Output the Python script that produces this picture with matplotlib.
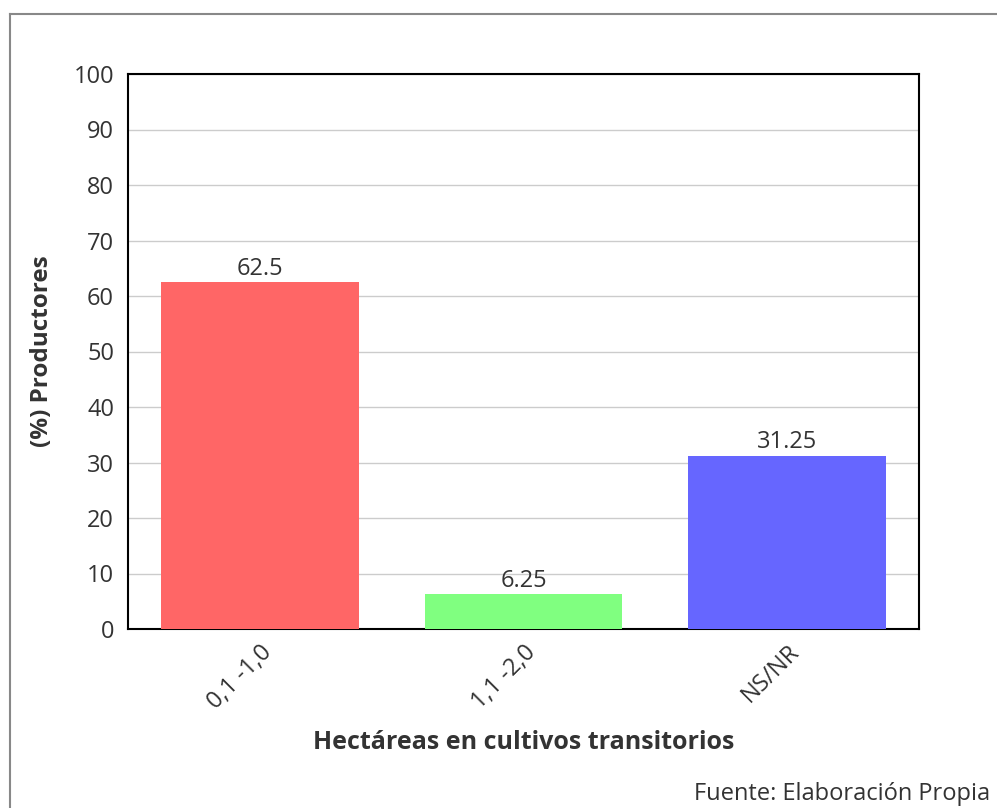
import matplotlib.pyplot as plt
from matplotlib.lines import Line2D

categories = ['0,1 -1,0', '1,1 -2,0', 'NS/NR']
values = [62.5, 6.25, 31.25]
value_labels = ['62.5', '6.25', '31.25']
colors = ['#ff6666', '#80ff80', '#6666ff']

plt.rcParams['font.family'] = ['Open Sans', 'DejaVu Sans']

fig = plt.figure(figsize=(9.97, 8.08), dpi=100)
ax = fig.add_axes([128 / 997, 1 - 629 / 808, (919 - 128) / 997, (629 - 74) / 808])

x = range(len(categories))
ax.bar(x, values, width=0.75, color=colors, zorder=3)
for i, v in enumerate(values):
    ax.text(i, v + 0.2, value_labels[i], ha='center', va='bottom', fontsize=17, color='#333333', zorder=4)

ax.set_xlim(-0.5, 2.5)
ax.set_ylim(0, 100)
ax.set_yticks(range(0, 101, 10))
ax.yaxis.grid(True, color='#cccccc', linewidth=1, zorder=0)
ax.set_xticks(list(x))
ax.set_xticklabels(categories, rotation=45, ha='right', rotation_mode='anchor', fontsize=17, color='#333333')
ax.tick_params(axis='y', length=0, pad=10, labelsize=17, labelcolor='#333333')
ax.tick_params(axis='x', length=0, pad=8)
for s in ax.spines.values():
    s.set_linewidth(1.5)
    s.set_color('black')

ax.set_ylabel('(%) Productores', fontsize=17.5, fontweight='bold', color='#333333')
ax.yaxis.set_label_coords(-0.094, 0.5)
ax.set_xlabel('Hectáreas en cultivos transitorios', fontsize=18, fontweight='bold', color='#333333')
ax.xaxis.set_label_coords(0.5, -0.182)

fig.text(990 / 997, 1 - 794 / 808, 'Fuente: Elaboración Propia', ha='right', va='center', fontsize=17, color='#333333')

# outer frame
fig.add_artist(Line2D([10 / 997, 10 / 997], [0, 1 - 14 / 808], color='#888888', linewidth=1.5))
fig.add_artist(Line2D([10 / 997, 1], [1 - 14 / 808, 1 - 14 / 808], color='#888888', linewidth=1.5))

fig.savefig('out.png', dpi=100)
